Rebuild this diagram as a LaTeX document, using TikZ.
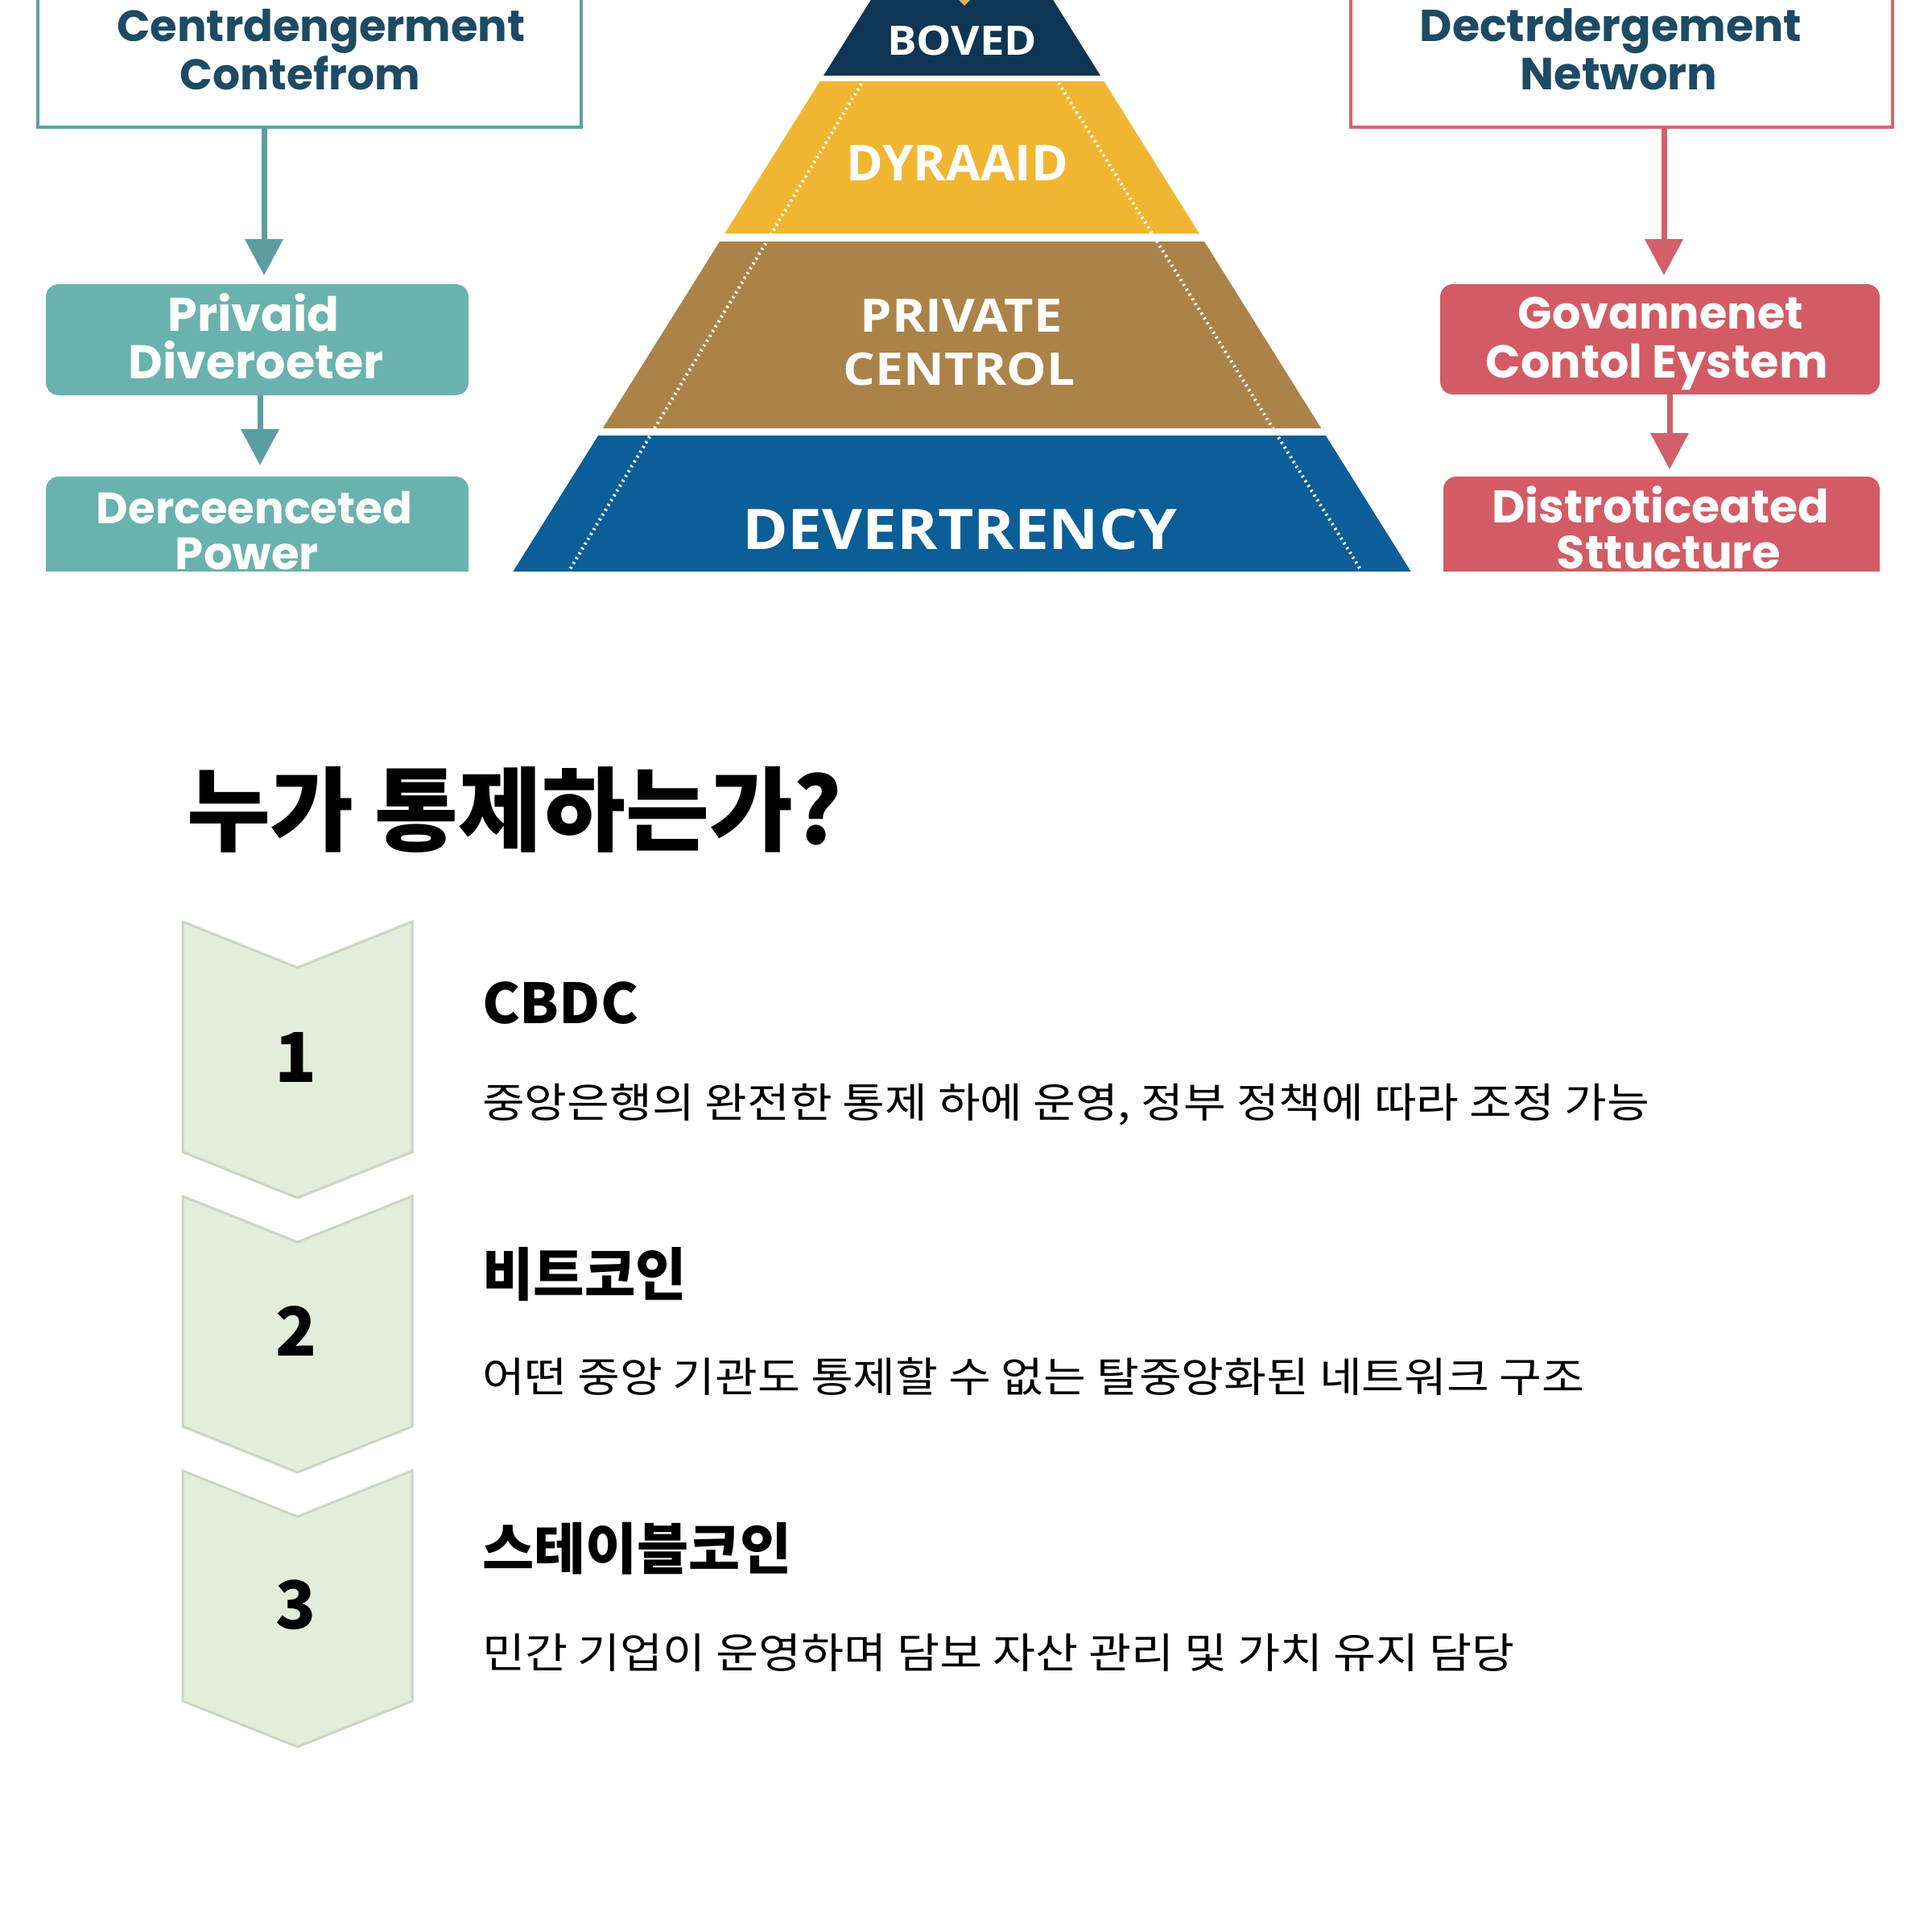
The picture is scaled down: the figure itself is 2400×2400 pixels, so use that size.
\documentclass[tikz,border=0pt]{standalone}
\usepackage{fontspec}
\usepackage{graphicx}
\usetikzlibrary{arrows.meta}
\newfontfamily\krfont{Noto Sans CJK KR}
\newfontfamily\popfont{Poppins}
\newfontfamily\opfont{Open Sans}
\newcommand{\fitw}[2]{\resizebox{#1}{!}{#2}}
\newcommand{\fitwh}[3]{\resizebox*{#1}{#2}{#3}}
\definecolor{tealline}{HTML}{5E9FA5}
\definecolor{tealfill}{HTML}{6AB2AD}
\definecolor{tealarrow}{HTML}{5A9EA2}
\definecolor{navytext}{HTML}{1D4A64}
\definecolor{redline}{HTML}{D3666F}
\definecolor{redfill}{HTML}{D35B65}
\definecolor{redarrow}{HTML}{D2606A}
\definecolor{pnavy}{HTML}{0E3553}
\definecolor{pyellow}{HTML}{F1B631}
\definecolor{pbrown}{HTML}{AB8348}
\definecolor{pblue}{HTML}{0B5E98}
\definecolor{pgold}{HTML}{D9B15A}
\definecolor{chevfill}{HTML}{E2EDDB}
\definecolor{chevline}{HTML}{C8D7C0}
\begin{document}
\begin{tikzpicture}[x=1pt,y=-1pt,
  every node/.style={inner sep=0pt, outer sep=0pt},
  headbox/.style={draw=#1, line width=3.5pt, fill=white},
  tealbox/.style={fill=tealfill, rounded corners=16pt},
  redbox/.style={fill=redfill, rounded corners=16pt},
  tarrow/.style={draw=tealarrow, line width=7pt, -{Triangle[width=46pt,length=45pt]}},
  rarrow/.style={draw=redarrow, line width=7pt, -{Triangle[width=46pt,length=45pt]}},
  boxtxt/.style={anchor=base, text=white, font=\popfont\bfseries},
  headtxt/.style={anchor=base, text=navytext, font=\popfont\bfseries},
  ptxt/.style={text=white, font=\opfont\bfseries},
  dotline/.style={draw=white, line width=4pt, dash pattern=on 2.5pt off 4.5pt},
  chev/.style={fill=chevfill, draw=chevline, line width=3pt, line join=miter},
  numtxt/.style={text=black, font=\krfont\bfseries},
  ktxt/.style={anchor=west, text=black, font=\krfont},
  kbold/.style={anchor=west, text=black, font=\krfont\bfseries}
]
\useasboundingbox[fill=white] (0,0) rectangle (2400,2400);

\begin{scope}
\clip (0,0) rectangle (2400,709);
% ---------- left column ----------
\node[headbox=tealline, minimum width=675pt, minimum height=180pt] (lhead) at (384.5,68) {};
\node[headtxt] (lh1) at (399,52) {\fitw{507pt}{Centrdengerment}};
\node[headtxt] (lh2) at (373,112) {\fitw{298pt}{Contefrom}};
\node[tealbox, minimum width=525pt, minimum height=138pt] (tb1) at (319.5,422) {};
\node[boxtxt] (tb1a) at (315,411) {\fitw{213pt}{Privaid}};
\node[boxtxt] (tb1b) at (318,470) {\fitw{317pt}{Diveroeter}};
\node[tealbox, minimum width=525pt, minimum height=138pt] (tb2) at (319.5,661) {};
\node[boxtxt] (tb2a) at (316,650) {\fitw{392pt}{Derceenceted}};
\node[boxtxt] (tb2b) at (307,707) {\fitw{178pt}{Power}};
\coordinate (xl1) at (328,0);
\coordinate (xl2) at (323,0);
\draw[tarrow, shorten >=11pt] (lhead.south -| xl1) -- (tb1.north -| xl1);
\draw[tarrow, shorten >=14pt] (tb1.south -| xl2) -- (tb2.north -| xl2);

% ---------- right column ----------
\node[headbox=redline, minimum width=673pt, minimum height=180pt] (rhead) at (2014.5,68) {};
\node[headtxt] (rh1) at (2001,52) {\fitw{474pt}{Dectrdergement}};
\node[headtxt] (rh2) at (2011,112) {\fitw{245pt}{Networn}};
\node[redbox, minimum width=546pt, minimum height=137pt] (rb1) at (2062,421.5) {};
\node[boxtxt] (rb1a) at (2063,408) {\fitw{354pt}{Govannenet}};
\node[boxtxt] (rb1b) at (2058,469) {\fitw{425pt}{Contol Eystem}};
\node[redbox, minimum width=542pt, minimum height=138pt] (rb2) at (2064,661) {};
\node[boxtxt] (rb2a) at (2063,649) {\fitw{419pt}{Distroticeated}};
\node[boxtxt] (rb2b) at (2073,706) {\fitw{278pt}{Sttucture}};
\coordinate (xr1) at (2067,0);
\coordinate (xr2) at (2074,0);
\draw[rarrow, shorten >=11pt] (rhead.south -| xr1) -- (rb1.north -| xr1);
\draw[rarrow, shorten >=9pt] (rb1.south -| xr2) -- (rb2.north -| xr2);

% ---------- pyramid ----------
\fill[pnavy] (1195,-181) -- (1367,94) -- (1023,94) -- cycle;
\fill[pyellow] (1018.6,101) -- (1371.4,101) -- (1489.7,290) -- (900.3,290) -- cycle;
\fill[pbrown] (894,300) -- (1496,300) -- (1641.2,532) -- (748.8,532) -- cycle;
\fill[pblue] (743.2,541) -- (1646.8,541) -- (1784,760) -- (606,760) -- cycle;
\fill[pgold] (1198,-13) -- (1208,-3) -- (1198,7) -- (1188,-3) -- cycle;
\draw[dotline] (1070,104) -- (707,709);
\draw[dotline] (1315,103) -- (1691,709);
\node[ptxt] (pb) at (1195,50) {\fitwh{186pt}{37pt}{BOVED}};
\node[ptxt] (py) at (1189,203) {\fitwh{276pt}{44pt}{DYRAAID}};
\node[ptxt] (pp1) at (1194,392) {\fitwh{251pt}{41pt}{PRIVATE}};
\node[ptxt] (pp2) at (1192,459) {\fitwh{288pt}{41pt}{CENTROL}};
\node[ptxt] (pd) at (1192,658) {\fitwh{540pt}{51pt}{DEVERTRENCY}};
\end{scope}

% ---------- bottom section ----------
\node[kbold] (title) at (232,1006) {\fitwh{813pt}{107pt}{누가 통제하는가?}};

\foreach \t in {1145,1486,1827}{
  \draw[chev] (227,\t) -- (369.5,{\t+57}) -- (512,\t) -- (512,{\t+286}) -- (369.5,{\t+343}) -- (227,{\t+286}) -- cycle;
}
\node[numtxt] (n1) at (368,1313) {\fitwh{!}{62pt}{1}};
\node[numtxt] (n2) at (368,1653) {\fitwh{!}{62pt}{2}};
\node[numtxt] (n3) at (368,1994) {\fitwh{!}{62pt}{3}};

\node[kbold] (h1) at (599,1246) {\fitwh{194pt}{53pt}{CBDC}};
\node[ktxt] (d1) at (599,1372) {\fitwh{1450pt}{52pt}{중앙은행의 완전한 통제 하에 운영, 정부 정책에 따라 조정 가능}};
\node[kbold] (h2) at (599,1583) {\fitwh{254pt}{67pt}{비트코인}};
\node[ktxt] (d2) at (599,1710) {\fitwh{1369pt}{47pt}{어떤 중앙 기관도 통제할 수 없는 탈중앙화된 네트워크 구조}};
\node[kbold] (h3) at (599,1924) {\fitwh{385pt}{65pt}{스테이블코인}};
\node[ktxt] (d3) at (599,2053) {\fitwh{1282pt}{47pt}{민간 기업이 운영하며 담보 자산 관리 및 가치 유지 담당}};
\end{tikzpicture}
\end{document}
